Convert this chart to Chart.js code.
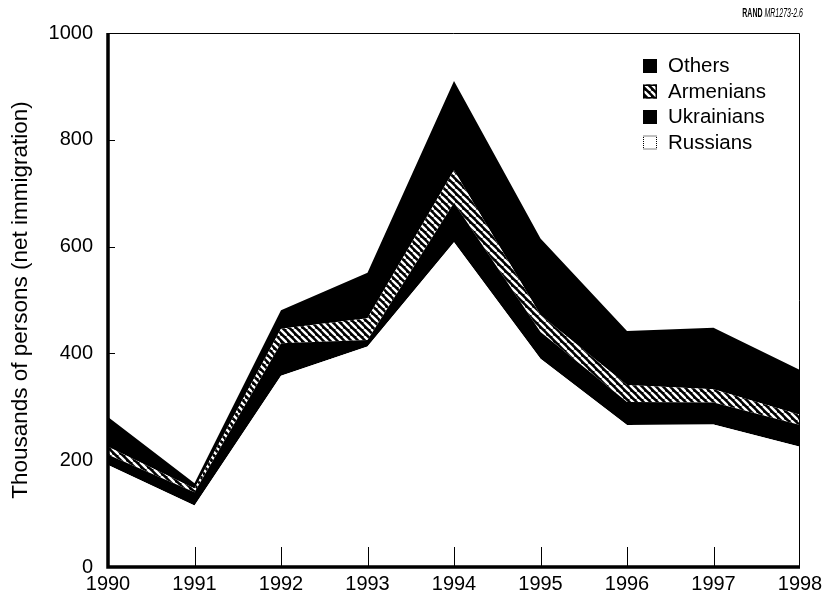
<!DOCTYPE html>
<html><head><meta charset="utf-8">
<script src="https://cdn.jsdelivr.net/npm/chart.js@4/dist/chart.umd.min.js"></script>
<style>html,body{margin:0;padding:0;background:#fff}#wrap{width:825px;height:600px}</style>
</head><body><div id="wrap"><canvas id="c" width="825" height="600"></canvas></div>
<script>
const years = ['1990','1991','1992','1993','1994','1995','1996','1997','1998'];
const russians   = [191,115,358,413,608,390,266,267,225];
const ukrainians = [19, 25, 61, 12, 74, 50, 43, 41, 41];
const armenians  = [15, 7, 27, 41, 61, 32, 32, 25, 19];
const others     = [56, 10, 35, 85, 167,143,101,115,84];
const yTicks = [0,200,400,600,800,1000];
const seriesLabels = ['Russians','Ukrainians','Armenians','Others'];
const yTitle = 'Thousands of persons (net immigration)';
const sourceBold = 'RAND';
const sourceItalic = 'MR1273-2.6';

const FONT = '"Liberation Sans", Arial, Helvetica, sans-serif';

function makeHatch(){
  const s = 7;
  const c = document.createElement('canvas');
  c.width = s; c.height = s;
  const g = c.getContext('2d');
  g.fillStyle = '#000'; g.fillRect(0,0,s,s);
  g.strokeStyle = '#fff'; g.lineWidth = 2.4;
  for (let k=-1;k<=1;k++){
    g.beginPath(); g.moveTo(k*s,0); g.lineTo(k*s+s,s); g.stroke();
  }
  return g.createPattern(c,'repeat');
}
const hatch = makeHatch();

const decor = {
  id:'decor',
  afterDraw(chart){
    const ctx = chart.ctx, a = chart.chartArea;
    const xs = chart.scales.x, ys = chart.scales.y;
    ctx.save();
    // top/right frame
    ctx.strokeStyle='#000'; ctx.lineWidth=1;
    ctx.beginPath();
    ctx.moveTo(a.left, a.top+0.5); ctx.lineTo(a.right-0.5, a.top+0.5); ctx.lineTo(a.right-0.5, a.bottom);
    ctx.stroke();
    // thick axes
    ctx.lineWidth=3.5;
    ctx.beginPath();
    ctx.moveTo(a.left, a.top); ctx.lineTo(a.left, a.bottom); ctx.lineTo(a.right, a.bottom);
    ctx.stroke();
    // inward ticks
    ctx.lineWidth=1;
    for (let i=1;i<years.length-1;i++){
      const x = Math.round(xs.getPixelForTick(i))+0.5;
      ctx.beginPath(); ctx.moveTo(x,a.bottom); ctx.lineTo(x,a.bottom-20); ctx.stroke();
    }
    yTicks.forEach(v=>{
      if (v===0) return;
      const y = Math.round(ys.getPixelForValue(v))+0.5;
      ctx.beginPath(); ctx.moveTo(a.left,y); ctx.lineTo(a.left+7,y); ctx.stroke();
    });
    // legend
    const ds = chart.data.datasets.slice().reverse();
    const bx = 643, by0 = 59, step = 25.5, bs = 14;
    ctx.font = '20.5px '+FONT; ctx.textBaseline='middle'; ctx.fillStyle='#000';
    ds.forEach((d,i)=>{
      const y = by0 + i*step;
      if (d.label==='Russians'){
        ctx.fillStyle='#fff'; ctx.fillRect(bx,y,bs,bs);
        ctx.setLineDash([1,1]); ctx.strokeStyle='#000'; ctx.lineWidth=1;
        ctx.strokeRect(bx+0.5,y+0.5,bs-1,bs-1); ctx.setLineDash([]);
      } else if (d.label==='Armenians'){
        ctx.fillStyle=hatch; ctx.fillRect(bx,y,bs,bs);
        ctx.strokeStyle='#000'; ctx.lineWidth=1.5; ctx.strokeRect(bx+0.75,y+0.75,bs-1.5,bs-1.5);
      } else {
        ctx.fillStyle='#000'; ctx.fillRect(bx,y,bs,bs);
      }
      ctx.fillStyle='#000';
      ctx.fillText(d.label, 668, y+bs/2+0.5);
    });
    // source note (condensed)
    ctx.textBaseline='alphabetic'; ctx.textAlign='left';
    const sx = 0.56;
    ctx.font='italic 12.5px '+FONT;
    const wi = ctx.measureText(sourceItalic).width*sx;
    ctx.font='bold 12.5px '+FONT;
    const wb = ctx.measureText(sourceBold+' ').width*sx;
    const right = 803, base = 17;
    ctx.save(); ctx.translate(right-wi-wb, base); ctx.scale(sx,1);
    ctx.fillText(sourceBold, 0, 0); ctx.restore();
    ctx.font='italic 12.5px '+FONT;
    ctx.save(); ctx.translate(right-wi, base); ctx.scale(sx,1);
    ctx.fillText(sourceItalic, 0, 0); ctx.restore();
    ctx.restore();
  }
};

new Chart(document.getElementById('c'), {
  type:'line',
  data:{
    labels: years,
    datasets:[
      {label:seriesLabels[0], data:russians, fill:'origin', backgroundColor:'#fff'},
      {label:seriesLabels[1], data:ukrainians, fill:'-1', backgroundColor:'#000'},
      {label:seriesLabels[2], data:armenians, fill:'-1', backgroundColor:hatch},
      {label:seriesLabels[3], data:others, fill:'-1', backgroundColor:'#000'}
    ].map(d=>Object.assign(d,{borderWidth:0, borderColor:'rgba(0,0,0,0)', pointRadius:0, tension:0}))
  },
  options:{
    responsive:false, animation:false, devicePixelRatio:1,
    layout:{padding:{left:0,right:25,top:33,bottom:0}},
    plugins:{legend:{display:false}, tooltip:{enabled:false}},
    scales:{
      x:{
        offset:false,
        grid:{display:false, drawTicks:false},
        border:{display:false},
        ticks:{color:'#000', font:{family:FONT, size:20}, padding:5, maxRotation:0, autoSkip:false},
        afterFit(s){ s.height = 33; s.paddingLeft = 0; s.paddingRight = 0; }
      },
      y:{
        stacked:true, min:0, max:1000,
        afterBuildTicks(s){ s.ticks = yTicks.map(v=>({value:v})); },
        grid:{display:false, drawTicks:false},
        border:{display:false},
        ticks:{color:'#000', font:{family:FONT, size:20}, padding:15, callback:(v)=>String(v)},
        title:{display:true, text:yTitle, color:'#000', font:{family:FONT, size:22.5}, padding:{top:7,bottom:0}},
        afterFit(s){ s.width = 108; s.paddingTop = 0; s.paddingBottom = 0; }
      }
    }
  },
  plugins:[decor]
});
</script>
</body></html>
